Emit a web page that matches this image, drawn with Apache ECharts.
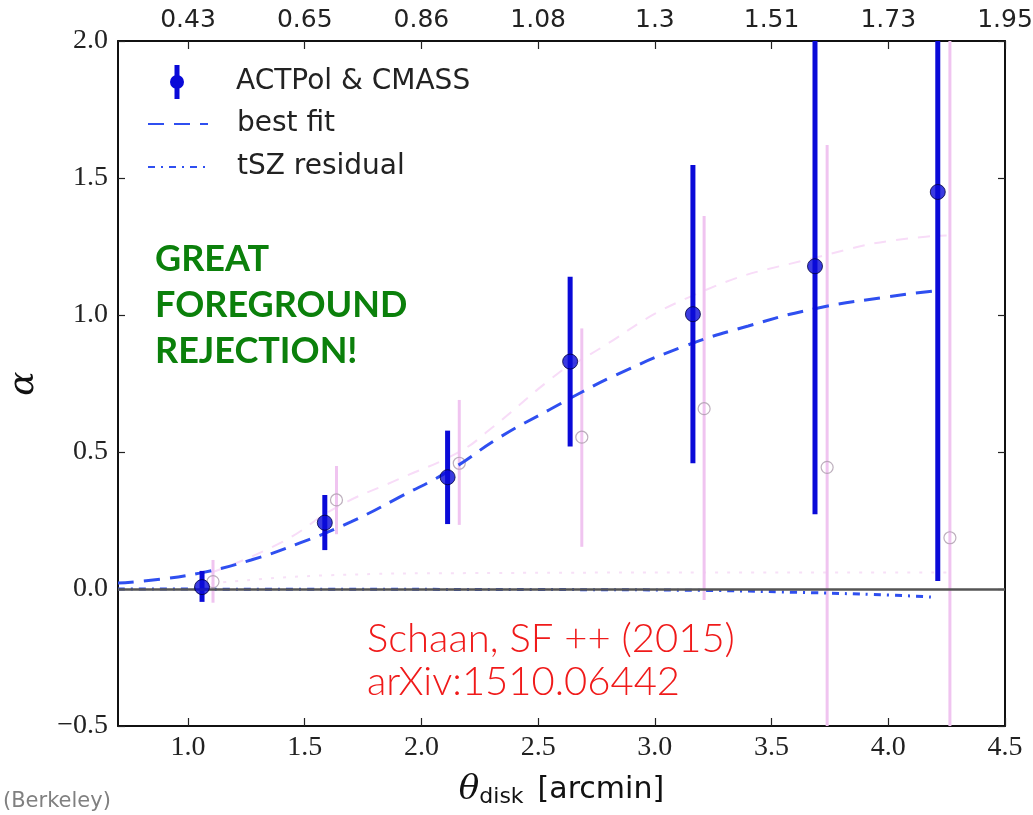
<!DOCTYPE html>
<html>
<head>
<meta charset="utf-8">
<script src="https://cdn.jsdelivr.net/npm/echarts@6/dist/echarts.min.js"></script>
<style>
  html, body { margin: 0; padding: 0; background: #fff; }
  #chart { width: 1033px; height: 815px; }
</style>
</head>
<body>
<div id="chart"></div>
<script>
// tick positions and labels
const xTicks = [1.0, 1.5, 2.0, 2.5, 3.0, 3.5, 4.0, 4.5]
const topTickLabels = ['0.43', '0.65', '0.86', '1.08', '1.3', '1.51', '1.73', '1.95']

// ACTPol & CMASS (filled blue points)
const blueX = [1.06, 1.586, 2.112, 2.637, 3.163, 3.686, 4.212]
const blueY = [0.007, 0.242, 0.408, 0.83, 1.003, 1.178, 1.449]
const blueLo = [-0.047, 0.142, 0.237, 0.52, 0.459, 0.273, 0.029]
const blueHi = [0.066, 0.343, 0.578, 1.14, 1.547, 2.2, 2.2]

// faint pink open points (second analysis)
const pinkX = [1.107, 1.636, 2.162, 2.687, 3.211, 3.738, 4.264]
const pinkY = [0.027, 0.325, 0.459, 0.554, 0.658, 0.444, 0.187]
const pinkLo = [-0.05, 0.2, 0.234, 0.154, -0.04, -0.6, -0.6]
const pinkHi = [0.106, 0.449, 0.69, 0.951, 1.361, 1.62, 2.2]

// best fit curve
const fitX = [0.7, 0.85, 1.05, 1.27, 1.48, 1.7, 1.91, 2.12, 2.34, 2.55, 2.69, 2.83, 3.12, 3.4, 3.69, 3.97, 4.2]
const fitY = [0.022, 0.033, 0.058, 0.106, 0.168, 0.246, 0.337, 0.432, 0.556, 0.655, 0.72, 0.78, 0.884, 0.96, 1.024, 1.063, 1.088]

// faint pink fit curve
const pinkFitX = [1.1, 1.4, 1.64, 1.9, 2.16, 2.29, 2.59, 2.69, 3.16, 3.69, 4.16, 4.25]
const pinkFitY = [0.06, 0.17, 0.3, 0.4, 0.5, 0.58, 0.79, 0.84, 1.07, 1.21, 1.286, 1.29]

// tSZ residual
const tszX = [0.7, 1.5, 2.5, 3.2, 3.6, 4.0, 4.2]
const tszY = [0.0, -0.001, -0.002, -0.005, -0.012, -0.022, -0.03]

// faint pink tSZ residual
const pinkTszX = [1.1, 1.6, 2.2, 3.2, 4.25]
const pinkTszY = [0.02, 0.05, 0.058, 0.06, 0.06]

const yMin = -0.5
const yMax = 2.0

const zip = (a, b) => a.map((v, i) => [v, b[i]])
const bars = (x, lo, hi) => x.map((v, i) => [v, lo[i], hi[i]])

function errorBar(color, width) {
	return function (params, api) {
		const x = api.value(0)
		const lo = api.coord([x, Math.max(api.value(1), yMin)])
		const hi = api.coord([x, Math.min(api.value(2), yMax)])
		return {
			type: 'line',
			shape: { x1: lo[0], y1: lo[1], x2: hi[0], y2: hi[1] },
			style: { stroke: color, lineWidth: width },
		}
	}
}

const blue = '#0a0ad8'
const fitBlue = '#2f4ff0'
const pink = '#f0c4f0'

const serif = "'Liberation Serif', 'DejaVu Serif', serif"
const sans = "'DejaVu Sans', sans-serif"

const axisBase = {
	type: 'value',
	min: 0.7,
	max: 4.5,
	splitLine: { show: false },
	axisLine: { onZero: false, lineStyle: { color: '#111', width: 2 } },
	axisTick: { inside: true, length: 8, customValues: xTicks, lineStyle: { color: '#222', width: 1.2 } },
}

// one legend per entry so each row sits where the reference has it
const legendBase = {
	left: 147,
	padding: 0,
	itemWidth: 60,
	itemHeight: 34,
	selectedMode: false,
	textStyle: { fontFamily: sans, fontSize: 28, color: '#222', padding: [0, 0, 0, 24] },
}

// errorbar icon: bar + dot, with two tiny specks so the box spans the full item width
const errIcon = 'path://M0,17h0.01v0.01z M60,17h-0.01v0.01z M27.5,0h5v34h-5z M23,17a7,7 0 1,1 14,0a7,7 0 1,1 -14,0z'

const myChart = echarts.init(document.getElementById('chart'))
const option = {
	animation: false,
	backgroundColor: '#fff',
	grid: { left: 118, right: 28, top: 41, bottom: 89, outerBoundsMode: 'none' },
	legend: [
		{
			...legendBase,
			top: 65,
			data: [{ name: 'ACTPol & CMASS', icon: errIcon }],
		},
		{
			...legendBase,
			top: 110,
			data: [{ name: 'best fit', itemStyle: { opacity: 0 } }],
		},
		{
			...legendBase,
			top: 153,
			data: [{ name: 'tSZ residual', itemStyle: { opacity: 0 } }],
		},
	],
	xAxis: [
		{
			...axisBase,
			position: 'bottom',
			name: '{t|θ}{s|disk}{a|[arcmin]}',
			nameLocation: 'middle',
			nameGap: 46,
			nameTextStyle: {
				rich: {
					t: { fontFamily: "'DejaVu Serif', serif", fontStyle: 'italic', fontSize: 34, color: '#111' },
					s: { fontFamily: sans, fontSize: 22, color: '#111', padding: [14, 0, 0, 0] },
					a: { fontFamily: sans, fontSize: 30, color: '#111', padding: [0, 0, 0, 14] },
				},
			},
			axisLabel: {
				customValues: xTicks,
				margin: 8,
				fontFamily: serif,
				fontSize: 28,
				color: '#222',
				formatter: (v) => v.toFixed(1),
			},
		},
		{
			...axisBase,
			position: 'top',
			axisLabel: {
				customValues: xTicks,
				margin: 8,
				fontFamily: sans,
				fontSize: 25,
				color: '#222',
				formatter: (v) => topTickLabels[Math.round((v - 1) / 0.5)],
			},
		},
	],
	yAxis: [
		{
			type: 'value',
			min: yMin,
			max: yMax,
			interval: 0.5,
			position: 'left',
			name: 'α',
			nameLocation: 'middle',
			nameRotate: 90,
			nameGap: 76,
			nameTextStyle: { fontFamily: "'DejaVu Serif', serif", fontStyle: 'italic', fontSize: 36, color: '#111' },
			splitLine: { show: false },
			axisLine: { lineStyle: { color: '#111', width: 2 } },
			axisTick: { inside: true, length: 7, lineStyle: { color: '#222', width: 1.2 } },
			axisLabel: {
				margin: 10,
				fontFamily: serif,
				fontSize: 28,
				color: '#222',
				formatter: (v) => v.toFixed(1).replace('-', '\u2212'),
			},
		},
		{
			type: 'value',
			min: yMin,
			max: yMax,
			interval: 0.5,
			position: 'right',
			splitLine: { show: false },
			axisLine: { show: true, lineStyle: { color: '#111', width: 2 } },
			axisTick: { inside: true, length: 7, lineStyle: { color: '#222', width: 1.2 } },
			axisLabel: { show: false },
		},
	],
	series: [
		{
			name: 'pink residual',
			type: 'line',
			data: zip(pinkTszX, pinkTszY),
			symbol: 'none',
			smooth: true,
			z: 1,
			lineStyle: { color: '#f7e0f7', width: 2, type: [3, 9] },
			markLine: {
				silent: true,
				symbol: 'none',
				label: { show: false },
				lineStyle: { color: '#555', width: 2.5, type: 'solid' },
				data: [{ yAxis: 0 }],
			},
		},
		{
			name: 'pink fit',
			type: 'line',
			data: zip(pinkFitX, pinkFitY),
			symbol: 'none',
			smooth: true,
			z: 1,
			lineStyle: { color: '#f8dcf8', width: 2, type: [12, 10] },
		},
		{
			name: 'pink bars',
			type: 'custom',
			renderItem: errorBar(pink, 3),
			data: bars(pinkX, pinkLo, pinkHi),
			encode: { x: 0, y: [1, 2] },
			clip: true,
			z: 2,
		},
		{
			name: 'pink points',
			type: 'scatter',
			data: zip(pinkX, pinkY),
			symbol: 'circle',
			symbolSize: 12,
			z: 2,
			itemStyle: { color: 'rgba(255,255,255,0)', borderColor: '#ad9bad', borderWidth: 1.2 },
		},
		{
			name: 'best fit',
			type: 'line',
			data: zip(fitX, fitY),
			symbol: 'none',
			smooth: true,
			z: 3,
			color: fitBlue,
			lineStyle: { color: fitBlue, width: 3, type: [16, 10] },
		},
		{
			name: 'tSZ residual',
			type: 'line',
			data: zip(tszX, tszY),
			symbol: 'none',
			smooth: true,
			z: 3,
			color: fitBlue,
			lineStyle: { color: fitBlue, width: 3, type: [7, 6, 2, 6] },
		},
		{
			name: 'ACTPol & CMASS',
			type: 'custom',
			renderItem: errorBar(blue, 5),
			data: bars(blueX, blueLo, blueHi),
			encode: { x: 0, y: [1, 2] },
			clip: true,
			color: blue,
			z: 4,
		},
		{
			name: 'ACTPol & CMASS',
			type: 'scatter',
			data: zip(blueX, blueY),
			symbol: 'circle',
			symbolSize: 15,
			z: 5,
			itemStyle: { color: blue, borderColor: '#000040', borderWidth: 1 },
		},
	],
	graphic: [
		{
			type: 'text',
			left: 155,
			top: 236,
			style: {
				text: 'GREAT\nFOREGROUND\nREJECTION!',
				font: "bold 36px 'Lato', 'Open Sans', sans-serif",
				fill: '#0b800b',
				lineHeight: 46,
			},
		},
		{
			type: 'text',
			left: 367,
			top: 618,
			style: {
				text: 'Schaan, SF ++ (2015)\narXiv:1510.06442',
				font: "300 40px 'Lato', 'Open Sans', sans-serif",
				fill: '#f01a1a',
				lineHeight: 43,
			},
		},
		{
			type: 'text',
			left: 3,
			top: 791,
			style: {
				text: '(Berkeley)',
				font: "21px 'DejaVu Sans', sans-serif",
				fill: '#808080',
			},
		},
	],
}
myChart.setOption(option)
</script>
</body>
</html>
